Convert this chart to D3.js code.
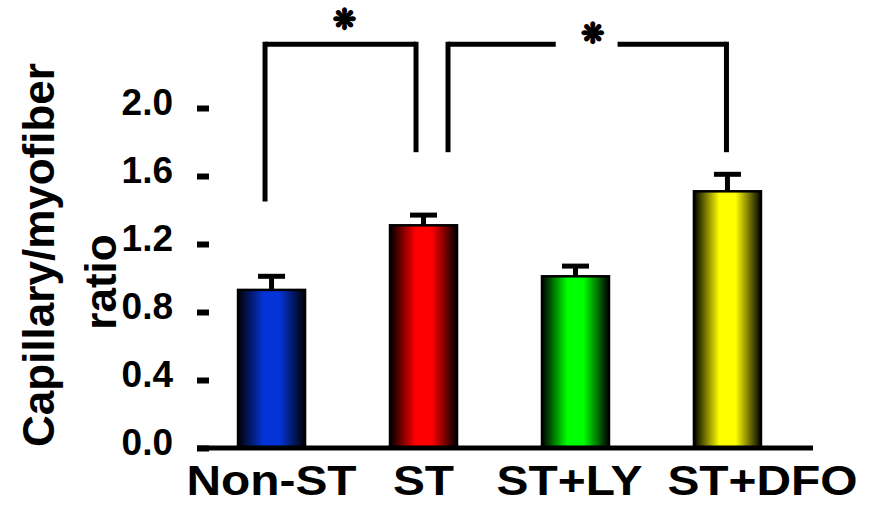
<!DOCTYPE html>
<html>
<head>
<meta charset="utf-8">
<script src="https://cdn.jsdelivr.net/npm/d3@7"></script>
<style>
  body { margin: 0; background: #fff; }
  svg { display: block; font-family: Arial, "Liberation Sans", sans-serif; }
  .tick text { font-size: 37px; font-weight: bold; fill: #000; }
</style>
</head>
<body>
<div class="chart"></div>
<script>
// data
var groups = ["Non-ST", "ST", "ST+LY", "ST+DFO"];
var means = [0.93, 1.31, 1.01, 1.51];
var errors = [0.08, 0.06, 0.06, 0.10];
var colors = ["#0434d8", "#ff0000", "#00ff00", "#ffff00"];
var yTicks = [0, 0.4, 0.8, 1.2, 1.6, 2.0];

// label nudges (px) so the long names don't collide
var labelShift = [0, 0, -6, 35];

// significance brackets (from group, to group, bar-end values, top value)
var brackets = [
  {from: 0, to: 1, leftEnd: 1.45, rightEnd: 1.74, top: 2.375, dxL: -6.5, dxR: -7.5, star: 0.527, starY: 2.52, gap: null},
  {from: 1, to: 3, leftEnd: 1.74, rightEnd: 1.74, top: 2.375, dxL: 24.5, dxR: -1, star: 0.52, starY: 2.44, gap: [0.387, 0.609]}
];

var width = 870, height = 505;

var svg = d3.select(".chart")
  .append("svg")
  .attr("width", width)
  .attr("height", height);

// scales
var x = d3.scaleBand()
  .domain(groups)
  .range([197, 802])
  .paddingInner(0.559)
  .paddingOuter(0.27);
var y = d3.scaleLinear()
  .domain([0, 2])
  .range([448, 108]);

// gradients
var defs = svg.append("defs");
groups.forEach(function(g, i) {
  var grad = defs.append("linearGradient")
    .attr("id", "grad" + i)
    .attr("x1", 0).attr("x2", 1).attr("y1", 0).attr("y2", 0);
  grad.append("stop").attr("offset", "0%").attr("stop-color", "#000");
  grad.append("stop").attr("offset", "38%").attr("stop-color", colors[i]);
  grad.append("stop").attr("offset", "62%").attr("stop-color", colors[i]);
  grad.append("stop").attr("offset", "100%").attr("stop-color", "#000");
});

// y axis (no domain line, short ticks on the right)
var yAxis = svg.append("g")
  .attr("transform", "translate(197,0)")
  .call(d3.axisLeft(y)
    .tickValues(yTicks)
    .tickFormat(d3.format(".1f"))
    .tickSizeInner(-12)
    .tickSizeOuter(0)
    .tickPadding(24));
yAxis.select(".domain").remove();
yAxis.selectAll(".tick line")
  .attr("stroke", "#000")
  .attr("stroke-width", 6);
yAxis.selectAll(".tick text")
  .attr("dy", "0.18em");

// error bars
var err = svg.append("g");
err.selectAll(".stem")
  .data(groups)
  .enter()
  .append("line")
  .attr("x1", function(d) { return x(d) + x.bandwidth() / 2; })
  .attr("x2", function(d) { return x(d) + x.bandwidth() / 2; })
  .attr("y1", function(d, i) { return y(means[i]); })
  .attr("y2", function(d, i) { return y(means[i] + errors[i]); })
  .attr("stroke", "#000")
  .attr("stroke-width", 5);
err.selectAll(".cap")
  .data(groups)
  .enter()
  .append("line")
  .attr("x1", function(d) { return x(d) + x.bandwidth() / 2 - 13.5; })
  .attr("x2", function(d) { return x(d) + x.bandwidth() / 2 + 13.5; })
  .attr("y1", function(d, i) { return y(means[i] + errors[i]); })
  .attr("y2", function(d, i) { return y(means[i] + errors[i]); })
  .attr("stroke", "#000")
  .attr("stroke-width", 5);

// bars
svg.selectAll(".bar")
  .data(groups)
  .enter()
  .append("rect")
  .attr("class", "bar")
  .attr("x", function(d) { return x(d); })
  .attr("y", function(d, i) { return y(means[i]); })
  .attr("width", x.bandwidth())
  .attr("height", function(d, i) { return y(0) - y(means[i]); })
  .attr("fill", function(d, i) { return "url(#grad" + i + ")"; })
  .attr("stroke", "#000")
  .attr("stroke-width", 2.5);

// baseline
svg.append("line")
  .attr("x1", 197)
  .attr("x2", 813)
  .attr("y1", y(0))
  .attr("y2", y(0))
  .attr("stroke", "#000")
  .attr("stroke-width", 5);

// x labels
svg.selectAll(".xlabel")
  .data(groups)
  .enter()
  .append("text")
  .attr("class", "xlabel")
  .attr("transform", function(d, i) {
    return "translate(" + (x(d) + x.bandwidth() / 2 + labelShift[i]) + ",495) scale(1.14,1)";
  })
  .attr("text-anchor", "middle")
  .style("font-size", "42px")
  .style("font-weight", "bold")
  .text(function(d) { return d; });

// y title
svg.append("text")
  .attr("transform", "translate(54,255) rotate(-90)")
  .attr("text-anchor", "middle")
  .style("font-size", "44px")
  .style("font-weight", "bold")
  .text("Capillary/myofiber");
svg.append("text")
  .attr("transform", "translate(116,282) rotate(-90)")
  .attr("text-anchor", "middle")
  .style("font-size", "44px")
  .style("font-weight", "bold")
  .text("ratio");

// significance brackets
brackets.forEach(function(b) {
  var xl = x(groups[b.from]) + x.bandwidth() / 2 + b.dxL;
  var xr = x(groups[b.to]) + x.bandwidth() / 2 + b.dxR;
  var g = svg.append("g")
    .attr("fill", "none")
    .attr("stroke", "#000")
    .attr("stroke-width", 5);
  g.append("line").attr("x1", xl).attr("x2", xl).attr("y1", y(b.top) - 2.5).attr("y2", y(b.leftEnd));
  g.append("line").attr("x1", xr).attr("x2", xr).attr("y1", y(b.top) - 2.5).attr("y2", y(b.rightEnd));
  if (b.gap) {
    g.append("line").attr("x1", xl).attr("x2", xl + (xr - xl) * b.gap[0]).attr("y1", y(b.top)).attr("y2", y(b.top));
    g.append("line").attr("x1", xl + (xr - xl) * b.gap[1]).attr("x2", xr).attr("y1", y(b.top)).attr("y2", y(b.top));
  } else {
    g.append("line").attr("x1", xl).attr("x2", xr).attr("y1", y(b.top)).attr("y2", y(b.top));
  }
  svg.append("text")
    .attr("x", xl + (xr - xl) * b.star)
    .attr("y", y(b.starY))
    .attr("text-anchor", "middle")
    .attr("dominant-baseline", "central")
    .style("font-family", "'DejaVu Sans'")
    .style("font-size", "28px")
    .style("font-weight", "bold")
    .attr("stroke", "#000")
    .attr("stroke-width", 1.6)
    .attr("stroke-linejoin", "round")
    .text("\u274B");
});
</script>
</body>
</html>
